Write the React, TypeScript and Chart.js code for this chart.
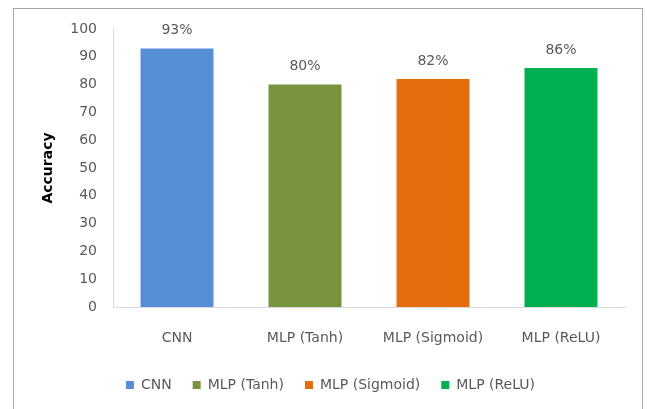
import React, { useEffect, useRef } from "react";
import { Chart, registerables } from "chart.js";

Chart.register(...registerables);

const categories = ["CNN", "MLP (Tanh)", "MLP (Sigmoid)", "MLP (ReLU)"];
const accuracyValues = [93, 80, 82, 86];
const valueLabels = ["93%", "80%", "82%", "86%"];
const barColors = ["#558ED5", "#77933C", "#E46C0A", "#00B050"];
const yTicks = { min: 0, max: 100, step: 10 };
const FONT = "'DejaVu Sans', sans-serif";

const valueLabelPlugin = {
  id: "valueLabels",
  afterDatasetsDraw(chart: any) {
    const ctx = chart.ctx;
    const meta = chart.getDatasetMeta(0);
    ctx.save();
    ctx.font = `14px ${FONT}`;
    ctx.fillStyle = "#595959";
    ctx.textAlign = "center";
    ctx.textBaseline = "middle";
    meta.data.forEach((bar: any, i: number) => {
      ctx.fillText(valueLabels[i], bar.x, bar.y - 18);
    });
    ctx.restore();
  },
};

export default function App() {
  const canvasRef = useRef<HTMLCanvasElement | null>(null);

  useEffect(() => {
    if (!canvasRef.current) return;
    const chart = new Chart(canvasRef.current, {
      type: "bar",
      data: {
        labels: categories,
        datasets: [
          {
            label: "Accuracy",
            data: accuracyValues,
            backgroundColor: barColors,
            borderWidth: 0,
            barPercentage: 0.57,
            categoryPercentage: 1,
          },
        ],
      },
      options: {
        responsive: false,
        animation: false,
        layout: { padding: { left: 36, right: 22, top: 29, bottom: 7 } },
        plugins: {
          tooltip: { enabled: false },
          legend: {
            display: true,
            position: "bottom",
            labels: {
              font: { family: FONT, size: 14 },
              color: "#595959",
              boxWidth: 8,
              boxHeight: 8,
              padding: 21,
              generateLabels: () =>
                categories.map((c, i) => ({
                  text: c,
                  fillStyle: barColors[i],
                  strokeStyle: barColors[i],
                  lineWidth: 0,
                  hidden: false,
                  index: i,
                  fontColor: "#595959",
                })),
            },
          },
        },
        scales: {
          x: {
            grid: { display: false, drawTicks: false },
            border: { display: true, color: "#D9D9D9", width: 1 },
            ticks: {
              font: { family: FONT, size: 14 },
              color: "#595959",
              padding: 23,
              maxRotation: 0,
            },
            afterFit: (s: any) => {
              s.height = 50;
            },
          },
          y: {
            min: yTicks.min,
            max: yTicks.max,
            grid: { display: false, drawTicks: false },
            border: { display: true, color: "#D9D9D9", width: 1 },
            ticks: {
              stepSize: yTicks.step,
              font: { family: FONT, size: 14 },
              color: "#595959",
              padding: 16,
            },
            title: {
              display: true,
              text: "Accuracy",
              font: { family: FONT, size: 14, weight: "bold" },
              color: "#000000",
              padding: 4,
            },
            afterFit: (s: any) => {
              s.width = 77;
            },
          },
        },
      },
      plugins: [valueLabelPlugin],
    });
    return () => chart.destroy();
  }, []);

  return (
    <div style={{ position: "fixed", left: 0, top: 0, width: 647, height: 409, background: "#fff", overflow: "hidden" }}>
      <div
        style={{
          position: "absolute",
          left: 13,
          top: 8,
          width: 630,
          height: 420,
          border: "1px solid #A6A6A6",
          boxSizing: "border-box",
        }}
      />
      <canvas ref={canvasRef} width={647} height={409} style={{ position: "absolute", left: 0, top: 0 }} />
    </div>
  );
}
